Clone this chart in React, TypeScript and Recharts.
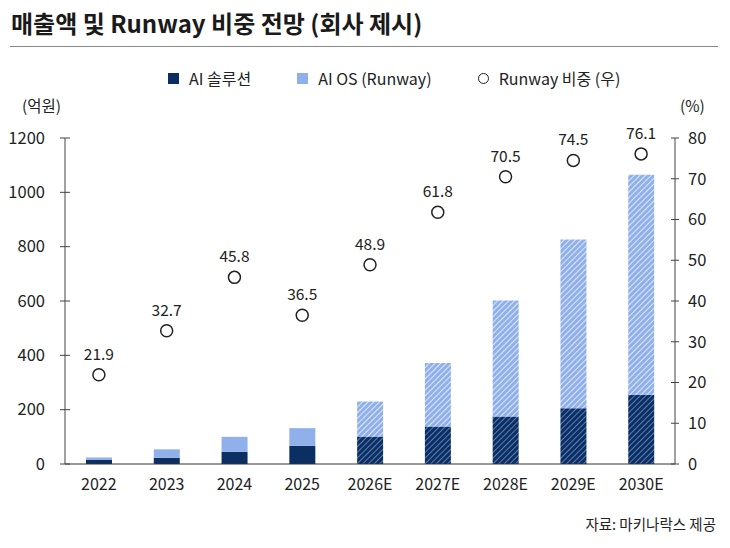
import React from "react";
import {
  ComposedChart,
  Bar,
  Line,
  XAxis,
  YAxis,
  Cell,
  LabelList,
} from "recharts";

const categories = ["2022", "2023", "2024", "2025", "2026E", "2027E", "2028E", "2029E", "2030E"];
const aiSolution = [15, 23, 45, 67, 101, 138, 175, 205, 255];
const aiOs = [9, 31, 55, 65, 129, 234, 427, 621, 810];
const runwayShare = [21.9, 32.7, 45.8, 36.5, 48.9, 61.8, 70.5, 74.5, 76.1];

const leftTicks = [0, 200, 400, 600, 800, 1000, 1200];
const rightTicks = [0, 10, 20, 30, 40, 50, 60, 70, 80];

const DARK = "#0b2f63";
const LIGHT = "#8fb0ea";
const FONT = "'Noto Sans CJK KR', 'Noto Sans', sans-serif";
const TEXT = "#222";

const data = categories.map((year, i) => ({
  year,
  solution: aiSolution[i],
  os: aiOs[i],
  share: runwayShare[i],
  forecast: year.endsWith("E"),
}));

function LeftTick({ x, y, payload }: any) {
  return (
    <g>
      <line x1={x - 5} x2={x + 5} y1={y} y2={y} stroke="#444" strokeWidth={1} />
      <text x={x - 20} y={y} dy="0.35em" textAnchor="end" fontSize={16.5} fill={TEXT} fontFamily={FONT}>
        {payload.value}
      </text>
    </g>
  );
}

function RightTick({ x, y, payload }: any) {
  return (
    <g>
      <line x1={x - 4} x2={x + 4} y1={y} y2={y} stroke="#444" strokeWidth={1} />
      <text x={x + 13} y={y} dy="0.35em" textAnchor="start" fontSize={16.5} fill={TEXT} fontFamily={FONT}>
        {payload.value}
      </text>
    </g>
  );
}

function LegendItem({ kind, label }: { kind: "dark" | "light" | "circle"; label: string }) {
  const marker =
    kind === "circle" ? (
      <span
        style={{
          width: 9,
          height: 9,
          borderRadius: "50%",
          border: "1.5px solid #222",
          display: "inline-block",
        }}
      />
    ) : (
      <span
        style={{
          width: 11,
          height: 11,
          background: kind === "dark" ? DARK : LIGHT,
          display: "inline-block",
        }}
      />
    );
  return (
    <div style={{ display: "flex", alignItems: "center", gap: 10 }}>
      {marker}
      <span>{label}</span>
    </div>
  );
}

export default function App() {
  return (
    <div
      style={{
        position: "relative",
        width: 730,
        height: 548,
        background: "#fff",
        fontFamily: FONT,
        color: TEXT,
        overflow: "hidden",
      }}
    >
      <style>{"body{margin:0}"}</style>

      <div style={{ position: "absolute", left: 11, top: 5, fontSize: 24, fontWeight: 700, color: "#1a1a1a" }}>
        매출액 및 Runway 비중 전망 (회사 제시)
      </div>
      <div style={{ position: "absolute", left: 10, top: 46, width: 708, height: 1, background: "#8a8a8a" }} />

      {/* Legend */}
      <div
        style={{
          position: "absolute",
          left: 168,
          top: 66,
          display: "flex",
          gap: 46,
          fontSize: 16,
        }}
      >
        <LegendItem kind="dark" label="AI 솔루션" />
        <LegendItem kind="light" label="AI OS (Runway)" />
        <LegendItem kind="circle" label="Runway 비중 (우)" />
      </div>

      <div style={{ position: "absolute", left: 22, top: 94, fontSize: 15.5 }}>(억원)</div>
      <div style={{ position: "absolute", left: 680, top: 94, fontSize: 15.5 }}>(%)</div>

      <div style={{ position: "absolute", top: 0, left: 0 }}>
        <ComposedChart
          width={730}
          height={548}
          data={data}
          margin={{ top: 138, right: 0, bottom: 54, left: 15 }}
        >
          <defs>
            <pattern id="hatchDark" patternUnits="userSpaceOnUse" width="4" height="4" patternTransform="rotate(45)">
              <rect width="4" height="4" fill={DARK} />
              <line x1="0" y1="0" x2="0" y2="4" stroke="#7e9fd8" strokeWidth="1.4" />
            </pattern>
            <pattern id="hatchLight" patternUnits="userSpaceOnUse" width="4" height="4" patternTransform="rotate(45)">
              <rect width="4" height="4" fill={LIGHT} />
              <line x1="0" y1="0" x2="0" y2="4" stroke="#ffffff" strokeWidth="1.4" />
            </pattern>
          </defs>
          <XAxis
            dataKey="year"
            height={30}
            tickLine={false}
            tickSize={0}
            tickMargin={15}
            axisLine={{ stroke: "#333" }}
            tick={{ fontSize: 16, fill: TEXT, fontFamily: FONT }}
          />
          <YAxis
            yAxisId="left"
            width={50}
            domain={[0, 1200]}
            ticks={leftTicks}
            tickLine={false}
            tickSize={0}
            tickMargin={0}
            axisLine={{ stroke: "#444" }}
            tick={<LeftTick />}
            interval={0}
          />
          <YAxis
            yAxisId="right"
            orientation="right"
            width={55}
            domain={[0, 80]}
            ticks={rightTicks}
            tickLine={false}
            tickSize={0}
            tickMargin={0}
            axisLine={{ stroke: "#444" }}
            tick={<RightTick />}
            interval={0}
          />
          <Bar yAxisId="left" dataKey="solution" stackId="rev" barSize={26} isAnimationActive={false}>
            {data.map((d) => (
              <Cell key={d.year} fill={d.forecast ? "url(#hatchDark)" : DARK} />
            ))}
          </Bar>
          <Bar yAxisId="left" dataKey="os" stackId="rev" barSize={26} isAnimationActive={false}>
            {data.map((d) => (
              <Cell key={d.year} fill={d.forecast ? "url(#hatchLight)" : LIGHT} />
            ))}
          </Bar>
          <Line
            yAxisId="right"
            dataKey="share"
            stroke="none"
            strokeWidth={0}
            dot={{ r: 6, fill: "#fff", stroke: "#222", strokeWidth: 1.5 }}
            activeDot={false}
            isAnimationActive={false}
          >
            <LabelList
              dataKey="share"
              position="top"
              offset={15}
              style={{ fontSize: 15.5, fill: TEXT, fontFamily: FONT }}
            />
          </Line>
        </ComposedChart>
      </div>

      <div style={{ position: "absolute", right: 14, top: 513, fontSize: 14.5 }}>자료: 마키나락스 제공</div>
    </div>
  );
}
